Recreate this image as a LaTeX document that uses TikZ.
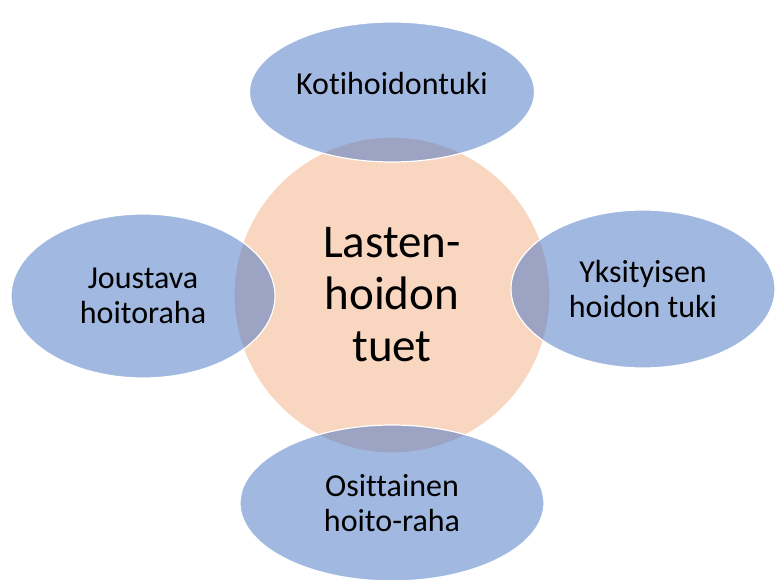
\documentclass[tikz,border=0pt]{standalone}
\usepackage{fontspec}
\setmainfont[Ligatures=NoCommon]{Carlito}
\usepackage{xcolor}
\definecolor{Peach}{HTML}{F8D6C0}
\definecolor{Azure}{HTML}{4472C4}
\usetikzlibrary{shapes.geometric}
\tikzset{
  hub/.style={circle,draw=white,line width=1.2pt,fill=Peach,minimum size=316pt,
    inner sep=0pt,align=center,font=\fontsize{47}{52}\selectfont},
  bubble/.style={ellipse,draw=white,line width=1.2pt,fill=Azure,fill opacity=0.5,
    draw opacity=1,text opacity=1,inner sep=0pt,align=center,
    font=\fontsize{32}{35}\selectfont}
}
\begin{document}
\begin{tikzpicture}[x=1pt,y=-1pt]
  \useasboundingbox (0,0) rectangle (776,580);
  \node[hub] (tuet) at (392,295) {Lasten-\\hoidon\\tuet};
  \node[bubble,minimum width=285pt,minimum height=140pt,text depth=18pt] (koti) at (392,92) {Kotihoidontuki};
  \node[bubble,minimum width=264pt,minimum height=164pt] (joustava) at (143,296) {Joustava\\hoitoraha};
  \node[bubble,minimum width=264pt,minimum height=158pt] (yksityinen) at (643,289) {Yksityisen\\hoidon tuki};
  \node[bubble,minimum width=304pt,minimum height=156pt] (osittainen) at (392,503) {Osittainen\\hoito-raha};
\end{tikzpicture}
\end{document}
